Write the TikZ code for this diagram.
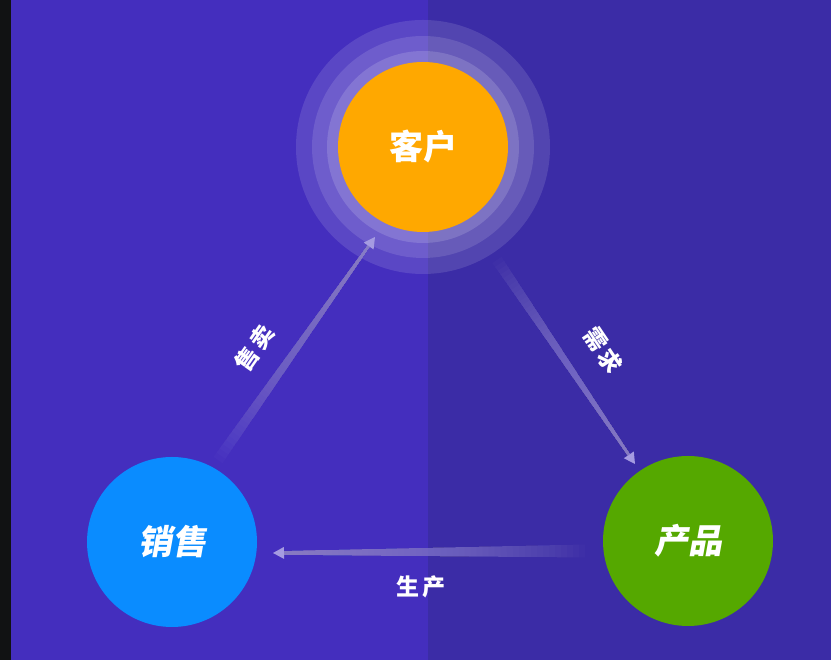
\documentclass[tikz,border=0pt]{standalone}
\usepackage{fontspec}
\usetikzlibrary{calc}
\newfontfamily\cjk{Noto Sans CJK SC}
\newfontfamily\cjkslant[FakeSlant=0.18]{Noto Sans CJK SC}
\definecolor{darkstrip}{HTML}{111213}
\definecolor{bgleft}{HTML}{442EBE}
\definecolor{bgright}{HTML}{3B2CA6}
\definecolor{orangec}{HTML}{FFA800}
\definecolor{bluec}{HTML}{0A8CFF}
\definecolor{greenc}{HTML}{55A800}
\definecolor{arrowc}{HTML}{A59BE1}
\tikzset{
  bigcirc/.style={circle, minimum size=170pt, inner sep=0pt, text=white},
  lbl/.style={text=white, font=\cjk\bfseries\fontsize{23}{23}\selectfont, inner sep=0pt},
  ring/.style={fill=white, fill opacity=#1},
}
% layered tapered shaft: each layer runs from t_i to the head, so no seams
\newcommand\fadearrow[4]{%
  \path ($(#2)!11pt!(#1)$) coordinate (hb);
  \foreach \i in {0,...,49}{
    \pgfmathsetmacro\ta{\i/50}
    \pgfmathsetmacro\wa{#3+(#4-#3)*\ta}
    \fill[arrowc, fill opacity=0.03]
      ($(#1)!\ta!(hb)!\wa pt!90:(#2)$) -- ($(hb)!#4pt!90:(#2)$) --
      ($(hb)!#4pt!-90:(#2)$) -- ($(#1)!\ta!(hb)!\wa pt!-90:(#2)$) -- cycle;
  }
  \fill[arrowc] (#2) -- ($(hb)!6pt!90:(#2)$) -- ($(hb)!6pt!-90:(#2)$) -- cycle;
}
\begin{document}
\begin{tikzpicture}[x=1pt, y=1pt]
\useasboundingbox (0,0) rectangle (831,660);
% background
\fill[darkstrip] (0,0) rectangle (11,660);
\fill[bgleft] (11,0) rectangle (428,660);
\fill[bgright] (428,0) rectangle (831,660);
% halo rings
\coordinate (kuc) at (423,513);
\fill[ring=0.12] (kuc) circle (127pt);
\fill[ring=0.12] (kuc) circle (111pt);
\fill[ring=0.15] (kuc) circle (96pt);
% circles
\node[bigcirc, fill=orangec, font=\cjk\bfseries\fontsize{34}{34}\selectfont] (ku) at (kuc) {客户};
\node[bigcirc, fill=bluec, font=\cjkslant\bfseries\fontsize{34}{34}\selectfont] (xs) at (172,118) {销售};
\node[bigcirc, fill=greenc, font=\cjkslant\bfseries\fontsize{34}{34}\selectfont] (cp) at (688,119) {产品};
% arrow anchors
\coordinate (a1s) at (218,200);
\coordinate (a1t) at (375,423);
\coordinate (a2s) at (497,400);
\coordinate (a2t) at (635,196);
\coordinate (a3s) at (585,109);
\coordinate (a3t) at (273,107);
\fadearrow{a1s}{a1t}{5.5}{1.5}
\fadearrow{a2s}{a2t}{5.5}{1.5}
\fadearrow{a3s}{a3t}{6.5}{2}
% labels
\node[lbl, rotate=55] (l1) at (254,312) {售\hspace{3pt}卖};
\node[lbl, rotate=-56] (l2) at (603,310) {需\hspace{3pt}求};
\node[lbl] (l3) at (421,73) {生\hspace{3pt}产};
\end{tikzpicture}
\end{document}
